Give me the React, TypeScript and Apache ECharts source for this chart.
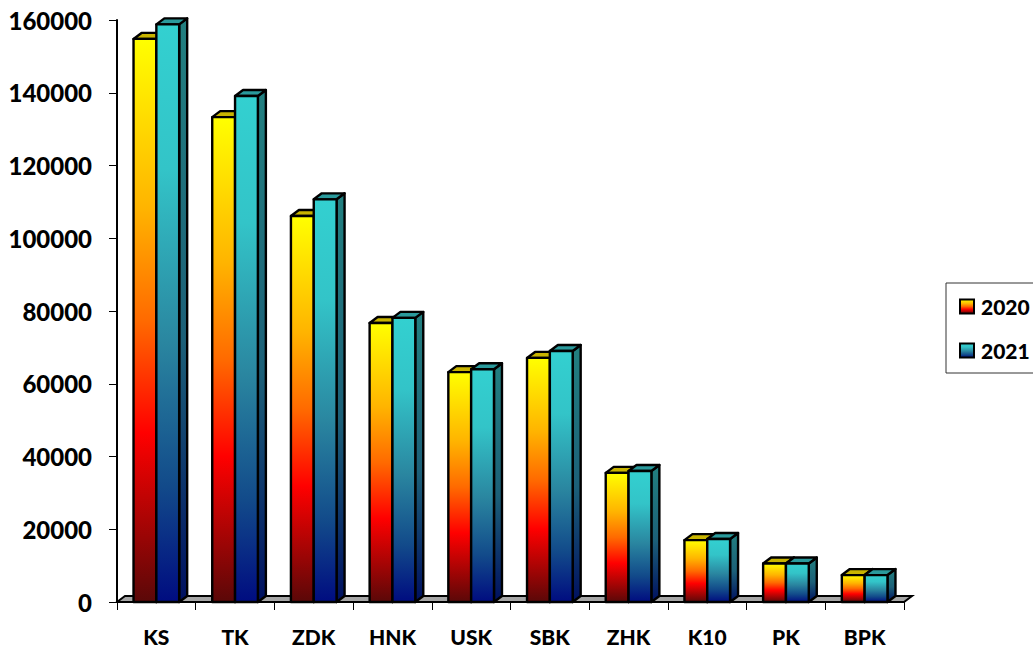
import React, { useEffect, useRef } from "react";
import * as echarts from "echarts";

const categories = ["KS", "TK", "ZDK", "HNK", "USK", "SBK", "ZHK", "K10", "PK", "BPK"];
const values2020 = [154800, 133300, 106100, 76700, 63200, 67100, 35500, 17000, 10600, 7400];
const values2021 = [158800, 139100, 110700, 78100, 64000, 69000, 36000, 17300, 10600, 7400];

const FONT = "Lato";
const DX = 8;
const DY = 6;

const grad = (stops: [number, string][]) =>
  new echarts.graphic.LinearGradient(0, 0, 0, 1, stops.map(([offset, color]) => ({ offset, color })));

const fire = () =>
  grad([
    [0, "#ffff00"],
    [0.3, "#ffb400"],
    [0.5, "#ff6a00"],
    [0.7, "#ff0000"],
    [1, "#5a0808"],
  ]);
const ocean = () =>
  grad([
    [0, "#33d0d0"],
    [0.25, "#33c4c8"],
    [0.55, "#2a86a0"],
    [0.8, "#124a8a"],
    [1, "#000c80"],
  ]);
const oceanSide = () =>
  grad([
    [0, "#228080"],
    [0.55, "#1c6078"],
    [1, "#001060"],
  ]);
const fireSide = () =>
  grad([
    [0, "#b09000"],
    [1, "#400000"],
  ]);

const barRenderer =
  (seriesIndex: number, frontFill: () => any, sideFill: () => any, topColor: string) =>
  (_params: any, api: any) => {
    const band = api.size([1, 0])[0];
    const w = band * 0.29;
    const [cx, yTop] = api.coord([api.value(0), api.value(1)]);
    const [, y0] = api.coord([api.value(0), 0]);
    const x = cx + (seriesIndex === 0 ? -w : 0);
    const line = { stroke: "#000", lineWidth: 2.4, lineJoin: "round" };
    return {
      type: "group",
      children: [
        {
          type: "polygon",
          shape: {
            points: [
              [x + w, yTop],
              [x + w + DX, yTop - DY],
              [x + w + DX, y0 - DY],
              [x + w, y0],
            ],
          },
          style: { fill: sideFill(), ...line },
        },
        {
          type: "polygon",
          shape: {
            points: [
              [x, yTop],
              [x + DX, yTop - DY],
              [x + w + DX, yTop - DY],
              [x + w, yTop],
            ],
          },
          style: { fill: topColor, ...line },
        },
        {
          type: "rect",
          shape: { x, y: yTop, width: w, height: y0 - yTop },
          style: { fill: frontFill(), ...line },
        },
      ],
    };
  };

const floorRenderer = (params: any) => {
  const { x, y, width, height } = params.coordSys;
  const b = y + height;
  return {
    type: "polygon",
    shape: {
      points: [
        [x, b],
        [x + DX, b - DY],
        [x + width + DX, b - DY],
        [x + width, b],
      ],
    },
    style: { fill: "#a6a6a6", stroke: "#000", lineWidth: 2 },
  };
};

export default function App() {
  const ref = useRef<HTMLDivElement>(null);
  useEffect(() => {
    document.body.style.margin = "0";
    const chart = echarts.init(ref.current!, null, { renderer: "svg" });
    chart.setOption({
      animation: false,
      backgroundColor: "#fff",
      textStyle: { fontFamily: FONT },
      grid: { left: 117, right: 129, top: 20, bottom: 46, containLabel: false },
      legend: {
        data: [
          { name: "2020", itemStyle: { color: fire() } },
          { name: "2021", itemStyle: { color: ocean() } },
        ],
        orient: "vertical",
        left: 946,
        top: 283,
        padding: [13, 40, 12, 13],
        itemGap: 23,
        itemWidth: 14,
        itemHeight: 14,
        icon: "rect",
        selectedMode: false,
        borderColor: "#333",
        borderWidth: 1,
        backgroundColor: "#fff",
        itemStyle: { borderColor: "#000", borderWidth: 2 },
        textStyle: { fontFamily: FONT, fontWeight: 900, fontSize: 21, color: "#000", padding: [0, 0, 0, 2] },
      },
      xAxis: {
        type: "category",
        data: categories,
        boundaryGap: true,
        axisLine: { show: true, lineStyle: { color: "#000", width: 2 } },
        axisTick: { show: true, length: 8, alignWithLabel: false, lineStyle: { color: "#000", width: 1 } },
        axisLabel: { margin: 24, color: "#000", fontFamily: FONT, fontWeight: 900, fontSize: 21, interval: 0 },
      },
      yAxis: {
        type: "value",
        min: 0,
        max: 160000,
        interval: 20000,
        splitLine: { show: false },
        axisLine: { show: true, lineStyle: { color: "#000", width: 2 } },
        axisTick: { show: true, length: 8, lineStyle: { color: "#000", width: 1 } },
        axisLabel: {
          margin: 25,
          color: "#000",
          fontFamily: FONT,
          fontWeight: 900,
          fontSize: 24,
          formatter: (v: number) => String(v),
        },
      },
      series: [
        {
          type: "custom",
          name: "floor",
          coordinateSystem: "cartesian2d",
          data: [[0, 0]],
          renderItem: floorRenderer,
          z: 1,
          silent: true,
        },
        {
          type: "custom",
          name: "2020",
          coordinateSystem: "cartesian2d",
          encode: { x: 0, y: 1 },
          data: values2020.map((v, i) => [i, v]),
          renderItem: barRenderer(0, fire, fireSide, "#c8b400"),
          itemStyle: { color: "#ff6a00" },
          z: 2,
        },
        {
          type: "custom",
          name: "2021",
          coordinateSystem: "cartesian2d",
          encode: { x: 0, y: 1 },
          data: values2021.map((v, i) => [i, v]),
          renderItem: barRenderer(1, ocean, oceanSide, "#2a9a9c"),
          itemStyle: { color: "#33c4c8" },
          z: 3,
        },
      ],
    });
    return () => chart.dispose();
  }, []);
  return <div ref={ref} style={{ width: 1033, height: 648, position: "absolute", left: 0, top: 0, overflow: "hidden" }} />;
}
